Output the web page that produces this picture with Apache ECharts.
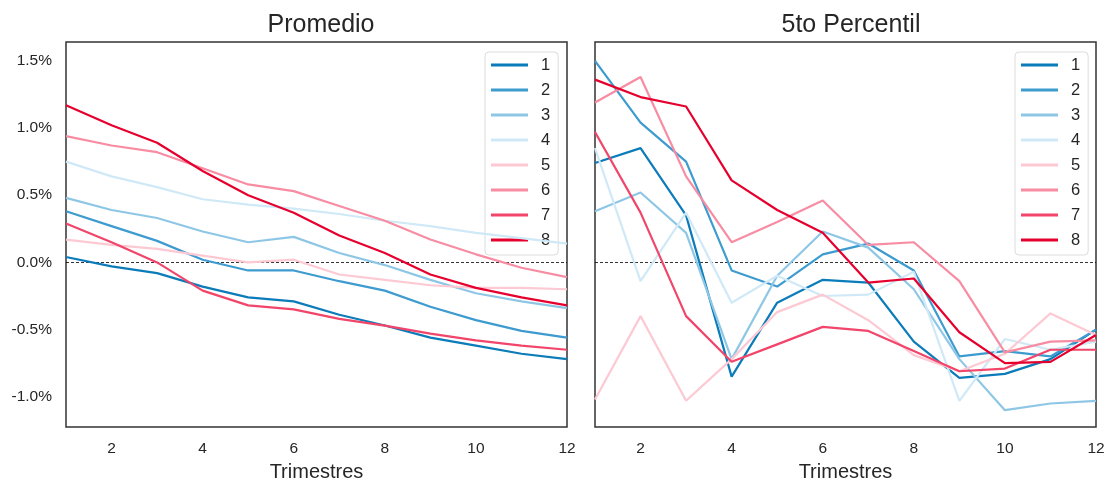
<!DOCTYPE html>
<html>
<head>
<meta charset="utf-8">
<script src="https://cdn.jsdelivr.net/npm/echarts@6/dist/echarts.min.js"></script>
<style>
  html, body { margin: 0; padding: 0; background: #fff; }
  #chart { width: 1110px; height: 480px; }
</style>
</head>
<body>
<div id="chart"></div>
<script>
// Horizonte en trimestres
const quarters = [1, 2, 3, 4, 5, 6, 7, 8, 9, 10, 11, 12];
const xTickValues = [2, 4, 6, 8, 10, 12];
const yTickValues = [-1.0, -0.5, 0.0, 0.5, 1.0, 1.5];
const groupNames = ['1', '2', '3', '4', '5', '6', '7', '8'];
const groupColors = ['#0b7bb9', '#3d9bd0', '#8ec7e6', '#d0e9f7', '#fdc9d3', '#f78ca2', '#f1456a', '#e6002e'];

// Promedio (en %)
const promedio1 = [0.04, -0.03, -0.08, -0.18, -0.26, -0.29, -0.39, -0.47, -0.56, -0.62, -0.68, -0.72];
const promedio2 = [0.38, 0.27, 0.16, 0.02, -0.06, -0.06, -0.14, -0.21, -0.33, -0.43, -0.51, -0.56];
const promedio3 = [0.48, 0.39, 0.33, 0.23, 0.15, 0.19, 0.07, -0.02, -0.13, -0.23, -0.29, -0.34];
const promedio4 = [0.75, 0.64, 0.56, 0.47, 0.43, 0.40, 0.36, 0.31, 0.27, 0.22, 0.18, 0.14];
const promedio5 = [0.17, 0.13, 0.10, 0.05, 0.00, 0.02, -0.09, -0.13, -0.17, -0.19, -0.19, -0.20];
const promedio6 = [0.94, 0.87, 0.82, 0.70, 0.58, 0.53, 0.42, 0.31, 0.17, 0.06, -0.04, -0.11];
const promedio7 = [0.29, 0.15, 0.00, -0.21, -0.32, -0.35, -0.42, -0.47, -0.53, -0.58, -0.62, -0.65];
const promedio8 = [1.17, 1.02, 0.89, 0.68, 0.50, 0.37, 0.20, 0.07, -0.09, -0.19, -0.26, -0.32];

// 5to percentil (en %)
const percentil1 = [0.74, 0.85, 0.35, -0.85, -0.30, -0.13, -0.15, -0.59, -0.86, -0.83, -0.72, -0.50];
const percentil2 = [1.50, 1.04, 0.75, -0.06, -0.18, 0.06, 0.14, -0.06, -0.70, -0.66, -0.70, -0.50];
const percentil3 = [0.38, 0.52, 0.22, -0.72, -0.10, 0.23, 0.11, -0.20, -0.72, -1.10, -1.05, -1.03];
const percentil4 = [0.85, -0.14, 0.37, -0.30, -0.10, -0.25, -0.24, -0.07, -1.03, -0.57, -0.65, -0.59];
const percentil5 = [-1.02, -0.40, -1.03, -0.72, -0.37, -0.24, -0.43, -0.69, -0.81, -0.68, -0.38, -0.54];
const percentil6 = [1.19, 1.38, 0.64, 0.15, 0.30, 0.46, 0.13, 0.15, -0.14, -0.67, -0.59, -0.58];
const percentil7 = [0.97, 0.37, -0.40, -0.74, -0.61, -0.48, -0.51, -0.66, -0.81, -0.79, -0.65, -0.65];
const percentil8 = [1.36, 1.23, 1.16, 0.61, 0.39, 0.22, -0.15, -0.12, -0.52, -0.75, -0.74, -0.54];

const promedio = [promedio1, promedio2, promedio3, promedio4, promedio5, promedio6, promedio7, promedio8];
const percentil = [percentil1, percentil2, percentil3, percentil4, percentil5, percentil6, percentil7, percentil8];

const FONT = '"Liberation Sans", Arial, sans-serif';
const TEXT = '#262626';

function pairs(values) {
  return quarters.map((q, i) => [q, values[i]]);
}

function buildSeries(groups, axisIndex) {
  return groups.map((values, i) => {
    const s = {
      name: groupNames[i],
      type: 'line',
      xAxisIndex: axisIndex,
      yAxisIndex: axisIndex,
      data: pairs(values),
      showSymbol: false,
      symbol: 'none',
      color: groupColors[i],
      lineStyle: { width: 2.2, color: groupColors[i] },
      emphasis: { disabled: true },
      z: 2 + i
    };
    if (i === 0) {
      // línea de referencia en cero
      s.markLine = {
        silent: true,
        symbol: 'none',
        label: { show: false },
        lineStyle: { type: [3, 2], color: '#000', width: 0.8 },
        data: [{ yAxis: 0 }],
        z: 1
      };
    }
    return s;
  });
}

function xAxis(gridIndex) {
  return {
    type: 'value',
    gridIndex: gridIndex,
    min: 1,
    max: 12,
    name: 'Trimestres',
    nameLocation: 'middle',
    nameGap: 35,
    nameTextStyle: { fontFamily: FONT, fontSize: 20, color: TEXT },
    axisLine: { show: false },
    axisTick: { show: false },
    splitLine: { show: false },
    axisLabel: {
      customValues: xTickValues,
      fontFamily: FONT, fontSize: 15.5, color: TEXT, margin: 14
    }
  };
}

function yAxis(gridIndex, showLabels) {
  return {
    type: 'value',
    gridIndex: gridIndex,
    min: -1.225,
    max: 1.64,
    axisLine: { show: false },
    axisTick: { show: false },
    splitLine: { show: false },
    axisLabel: {
      show: showLabels,
      customValues: yTickValues,
      fontFamily: FONT, fontSize: 15.5, color: TEXT, margin: 14,
      formatter: v => v.toFixed(1) + '%'
    }
  };
}

function legend(left) {
  return {
    orient: 'vertical',
    left: left,
    top: 52,
    data: groupNames,
    icon: 'rect',
    itemWidth: 37,
    itemHeight: 3,
    itemGap: 7,
    padding: [4, 8, 6, 6],
    borderColor: '#dcdcdc',
    borderWidth: 1,
    borderRadius: 4,
    backgroundColor: 'rgba(255,255,255,0.8)',
    selectedMode: false,
    textStyle: { fontFamily: FONT, fontSize: 16.5, color: TEXT, lineHeight: 18, padding: [0, 0, 0, 8] }
  };
}

function grid(left) {
  return {
    left: left, top: 42, width: 501, height: 385,
    outerBoundsMode: 'none', containLabel: false,
    show: true, borderColor: '#333', borderWidth: 1.5, backgroundColor: 'transparent'
  };
}

const chart = echarts.init(document.getElementById('chart'), null, { renderer: 'canvas' });
chart.setOption({
  animation: false,
  backgroundColor: '#fff',
  title: [
    { text: 'Promedio', left: 316, top: 8, textAlign: 'center',
      textStyle: { fontFamily: FONT, fontSize: 25, fontWeight: 'normal', color: TEXT } },
    { text: '5to Percentil', left: 846, top: 8, textAlign: 'center',
      textStyle: { fontFamily: FONT, fontSize: 25, fontWeight: 'normal', color: TEXT } }
  ],
  grid: [grid(66), grid(595)],
  xAxis: [xAxis(0), xAxis(1)],
  yAxis: [yAxis(0, true), yAxis(1, false)],
  legend: [legend(485), legend(1015)],
  series: buildSeries(promedio, 0).concat(buildSeries(percentil, 1))
});
</script>
</body>
</html>
